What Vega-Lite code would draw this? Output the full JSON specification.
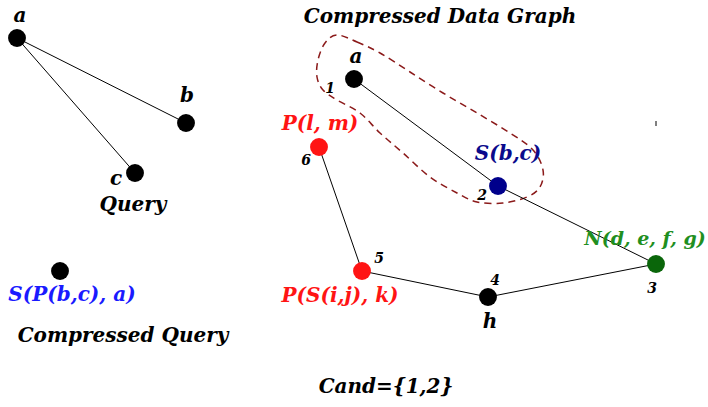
{
  "$schema": "https://vega.github.io/schema/vega-lite/v6.json",
  "autosize": {"type": "none"},
  "width": 708,
  "height": 407,
  "padding": 0,
  "background": "white",
  "config": {"view": {"stroke": null}},
  "datasets": {
    "edges": [
      {"x1": 17, "y1": 38, "x2": 186, "y2": 123},
      {"x1": 17, "y1": 38, "x2": 135, "y2": 173},
      {"x1": 354, "y1": 79, "x2": 498, "y2": 186},
      {"x1": 498, "y1": 186, "x2": 656, "y2": 264},
      {"x1": 656, "y1": 264, "x2": 488, "y2": 297},
      {"x1": 488, "y1": 297, "x2": 362, "y2": 271},
      {"x1": 362, "y1": 271, "x2": 319, "y2": 147},
      {"x1": 656, "y1": 121, "x2": 656, "y2": 126}
    ],
    "outline": [
      {"i": 0, "x": 337, "y": 35},
      {"i": 1, "x": 357, "y": 42},
      {"i": 2, "x": 380, "y": 53},
      {"i": 3, "x": 410, "y": 72},
      {"i": 4, "x": 443, "y": 93},
      {"i": 5, "x": 477, "y": 113},
      {"i": 6, "x": 510, "y": 133},
      {"i": 7, "x": 533, "y": 150},
      {"i": 8, "x": 543, "y": 170},
      {"i": 9, "x": 540, "y": 187},
      {"i": 10, "x": 527, "y": 197},
      {"i": 11, "x": 503, "y": 203},
      {"i": 12, "x": 477, "y": 202},
      {"i": 13, "x": 457, "y": 193},
      {"i": 14, "x": 430, "y": 177},
      {"i": 15, "x": 403, "y": 153},
      {"i": 16, "x": 380, "y": 133},
      {"i": 17, "x": 360, "y": 113},
      {"i": 18, "x": 337, "y": 100},
      {"i": 19, "x": 323, "y": 90},
      {"i": 20, "x": 317, "y": 77},
      {"i": 21, "x": 318, "y": 60},
      {"i": 22, "x": 325, "y": 43}
    ],
    "nodes": [
      {"x": 17, "y": 38, "color": "#000000"},
      {"x": 186, "y": 123, "color": "#000000"},
      {"x": 135, "y": 173, "color": "#000000"},
      {"x": 60, "y": 271, "color": "#000000"},
      {"x": 354, "y": 79, "color": "#000000"},
      {"x": 498, "y": 186, "color": "#00008b"},
      {"x": 656, "y": 264, "color": "#0a660a"},
      {"x": 488, "y": 297, "color": "#000000"},
      {"x": 362, "y": 271, "color": "#ff1414"},
      {"x": 319, "y": 147, "color": "#ff1414"}
    ],
    "labels": [
      {"x": 440, "y": 23, "text": "Compressed Data Graph", "color": "#000000", "size": 20},
      {"x": 133, "y": 211, "text": "Query", "color": "#000000", "size": 20},
      {"x": 123, "y": 342, "text": "Compressed Query", "color": "#000000", "size": 20},
      {"x": 386, "y": 393, "text": "Cand={1,2}", "color": "#000000", "size": 20},
      {"x": 72, "y": 301, "text": "S(P(b,c), a)", "color": "#1a1aff", "size": 20},
      {"x": 320, "y": 130, "text": "P(l, m)", "color": "#ff1414", "size": 20},
      {"x": 508, "y": 160, "text": "S(b,c)", "color": "#0a0a8c", "size": 20},
      {"x": 645, "y": 245, "text": "N(d, e, f, g)", "color": "#1f8f1f", "size": 19},
      {"x": 340, "y": 302, "text": "P(S(i,j), k)", "color": "#ff1414", "size": 20},
      {"x": 20, "y": 22, "text": "a", "color": "#000000", "size": 20},
      {"x": 187, "y": 102, "text": "b", "color": "#000000", "size": 20},
      {"x": 116, "y": 185, "text": "c", "color": "#000000", "size": 20},
      {"x": 356, "y": 63, "text": "a", "color": "#000000", "size": 20},
      {"x": 490, "y": 328, "text": "h", "color": "#000000", "size": 20},
      {"x": 330, "y": 93, "text": "1", "color": "#000000", "size": 14},
      {"x": 482, "y": 200, "text": "2", "color": "#000000", "size": 14},
      {"x": 652, "y": 293, "text": "3", "color": "#000000", "size": 14},
      {"x": 495, "y": 285, "text": "4", "color": "#000000", "size": 14},
      {"x": 379, "y": 263, "text": "5", "color": "#000000", "size": 14},
      {"x": 306, "y": 165, "text": "6", "color": "#000000", "size": 14}
    ]
  },
  "layer": [
    {
      "data": {"name": "outline"},
      "mark": {"type": "line", "interpolate": "cardinal-closed", "strokeDash": [7, 5], "strokeWidth": 1.5, "color": "#8b1a1a"},
      "encoding": {
        "x": {"field": "x", "type": "quantitative", "scale": {"domain": [0, 708]}, "axis": null},
        "y": {"field": "y", "type": "quantitative", "scale": {"domain": [0, 407], "reverse": true}, "axis": null},
        "order": {"field": "i", "type": "quantitative"}
      }
    },
    {
      "data": {"name": "edges"},
      "mark": {"type": "rule", "color": "#000000", "strokeWidth": 1},
      "encoding": {
        "x": {"field": "x1", "type": "quantitative", "scale": {"domain": [0, 708]}, "axis": null},
        "y": {"field": "y1", "type": "quantitative", "scale": {"domain": [0, 407], "reverse": true}, "axis": null},
        "x2": {"field": "x2"},
        "y2": {"field": "y2"}
      }
    },
    {
      "data": {"name": "nodes"},
      "mark": {"type": "circle", "size": 320, "opacity": 1},
      "encoding": {
        "x": {"field": "x", "type": "quantitative", "scale": {"domain": [0, 708]}, "axis": null},
        "y": {"field": "y", "type": "quantitative", "scale": {"domain": [0, 407], "reverse": true}, "axis": null},
        "color": {"field": "color", "type": "nominal", "scale": null, "legend": null}
      }
    },
    {
      "data": {"name": "labels"},
      "mark": {"type": "text", "align": "center", "baseline": "alphabetic", "font": "DejaVu Serif", "fontStyle": "italic", "fontWeight": "bold"},
      "encoding": {
        "x": {"field": "x", "type": "quantitative", "scale": {"domain": [0, 708]}, "axis": null},
        "y": {"field": "y", "type": "quantitative", "scale": {"domain": [0, 407], "reverse": true}, "axis": null},
        "text": {"field": "text", "type": "nominal"},
        "color": {"field": "color", "type": "nominal", "scale": null, "legend": null},
        "size": {"field": "size", "type": "quantitative", "scale": null, "legend": null}
      }
    }
  ]
}
